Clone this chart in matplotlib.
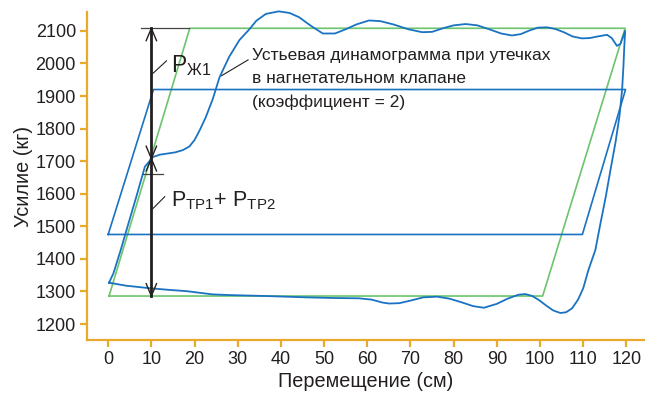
import matplotlib
matplotlib.use("Agg")
import matplotlib.pyplot as plt

plt.rcParams['font.family'] = ['Liberation Sans', 'DejaVu Sans']
plt.rcParams['mathtext.fontset'] = 'custom'
plt.rcParams['mathtext.rm'] = 'Liberation Sans'
plt.rcParams['mathtext.it'] = 'Liberation Sans'

# theoretical dynamogram (green)
theory_x = [0.2, 18.9, 119.7, 100.6, 0.2]
theory_y = [1286, 2108, 2108, 1286, 1286]

# dynamogram without leakage (thin blue parallelogram)
ideal_x = [0.0, 10.5, 119.8, 109.8, 0.0]
ideal_y = [1475, 1920, 1920, 1475, 1475]

# wellhead dynamogram with discharge valve leakage
card_x = [0.2, 1.2, 2.9, 4.5, 6.5, 8.5, 10.4, 12.0, 13.5, 15.5, 17.3, 18.8,
          20.0, 21.2, 22.6, 24.2, 25.8, 28.0, 30.4, 32.7, 34.3, 36.5, 39.5,
          42.0, 44.2, 47.0, 49.7, 52.5, 55.0, 57.5, 60.4, 63.0, 66.0, 69.5,
          72.7, 75.0, 77.5, 80.0, 82.8, 85.5, 88.0, 91.0, 93.5, 95.5, 97.5,
          99.5, 101.6, 103.5, 105.5, 107.5, 109.7, 111.5, 113.0, 115.5,
          116.6, 117.8, 118.6, 119.3, 119.7, 119.5, 119.3, 119.0, 118.4,
          117.5, 116.4, 115.2, 114.0, 112.8, 111.2, 110.0, 108.8, 107.4,
          106.0, 104.7, 103.0, 101.5, 99.7, 98.2, 96.6, 95.0, 92.5, 90.0,
          87.0, 84.5, 82.0, 79.0, 76.2, 73.0, 70.0, 67.4, 65.0, 63.5, 61.0,
          58.1, 52.0, 45.8, 36.6, 28.0, 24.2, 18.1, 14.0, 9.6, 4.0, 0.2]
card_y = [1327, 1355, 1427, 1500, 1590, 1683, 1713, 1720, 1723, 1727, 1734,
          1745, 1765, 1795, 1835, 1890, 1958, 2020, 2072, 2105, 2131, 2152,
          2160, 2155, 2142, 2115, 2092, 2092, 2105, 2120, 2132, 2130, 2120,
          2105, 2096, 2097, 2108, 2117, 2121, 2117, 2106, 2092, 2086, 2090,
          2101, 2110, 2111, 2106, 2096, 2083, 2077, 2078, 2082, 2088, 2078,
          2054, 2060, 2085, 2100, 2050, 1990, 1920, 1840, 1760, 1680, 1590,
          1510, 1427, 1366, 1310, 1275, 1248, 1236, 1234, 1242, 1256, 1274,
          1286, 1292, 1290, 1278, 1262, 1250, 1255, 1266, 1278, 1284, 1282,
          1272, 1264, 1263, 1266, 1275, 1279, 1280, 1282, 1286, 1289, 1291,
          1301, 1305, 1310, 1318, 1327]

# load levels marked with arrows at stroke position 10 cm
arrow_x = 10.0
p_top = 2108
p_mid = 1708
p_bot = 1286
p_tick = 1660

xticks = list(range(0, 121, 10))
yticks = list(range(1200, 2101, 100))

blue = '#1a73c2'
green = '#6cc46c'
axis_col = '#e8aa2c'
ink = '#231f20'

fig = plt.figure(figsize=(6.45, 3.98), dpi=100)
ax = fig.add_axes([87 / 645, 58 / 398, 558 / 645, 328 / 398])

ax.plot(theory_x, theory_y, color=green, lw=1.2, zorder=2)
ax.plot(ideal_x, ideal_y, color=blue, lw=1.2, zorder=3)
ax.plot(card_x, card_y, color=blue, lw=1.3, zorder=4, clip_on=False)

# force arrows: thick shaft, thin open heads
ax.plot([7.7, 18.7], [p_top, p_top], color='#444444', lw=0.9, zorder=5)
ax.plot([8.1, 12.7], [p_tick, p_tick], color='#444444', lw=0.9, zorder=5)
ax.plot([arrow_x, arrow_x], [p_bot, p_top], color=ink, lw=2.0, zorder=6)
head_dx, head_dy = 1.2, 38
for tip, d in [(p_top, 1), (p_mid, -1), (p_mid, 1), (p_bot, -1)]:
    ax.plot([arrow_x - head_dx, arrow_x, arrow_x + head_dx],
            [tip - d * head_dy, tip, tip - d * head_dy],
            color=ink, lw=1.0, zorder=7)

# labels with leader lines
ax.plot([10.4, 13.5], [1970, 2008], color=ink, lw=0.8)
ax.text(14.6, 1974, r'$\mathrm{P_{Ж1}}$', fontsize=16.5, color=ink,
        va='baseline', ha='left')
ax.plot([10.4, 13.1], [1555, 1591], color=ink, lw=0.8)
ax.text(14.6, 1562, r'$\mathrm{P_{ТР1}}$' + '+ ' + r'$\mathrm{P_{ТР2}}$',
        fontsize=15.5, color=ink, va='baseline', ha='left')

ax.plot([26.2, 32.4], [1962, 2011], color=ink, lw=0.8)
for txt, yy in [('Устьевая динамограмма при утечках', 2011),
                ('в нагнетательном клапане', 1940),
                ('(коэффициент = 2)', 1866)]:
    ax.text(33.2, yy, txt, fontsize=12.5, color=ink, va='baseline', ha='left')

ax.set_xlim(-4.9, 124.3)
ax.set_ylim(1151, 2158)
ax.set_xticks(xticks)
ax.set_yticks(yticks)

for side in ['top', 'right']:
    ax.spines[side].set_visible(False)
for side in ['left', 'bottom']:
    ax.spines[side].set_color(axis_col)
    ax.spines[side].set_linewidth(1.6)
ax.tick_params(axis='both', colors=axis_col, width=1.6, length=5,
               labelcolor=ink, labelsize=13, pad=3)

ax.set_xlabel('Перемещение (см)', fontsize=14.3, color=ink, labelpad=3)
ax.set_ylabel('Усилие (кг)', fontsize=14.3, color=ink, labelpad=2)

fig.savefig('out.png', dpi=100)
